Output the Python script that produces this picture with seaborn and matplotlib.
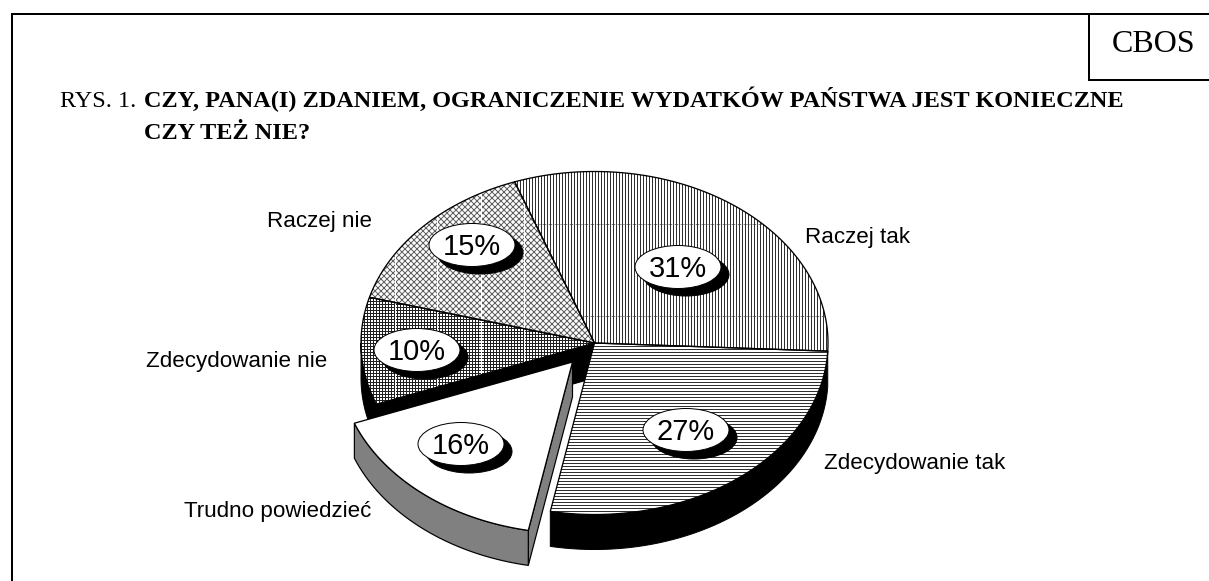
import numpy as np
import matplotlib
matplotlib.use("Agg")
import matplotlib.pyplot as plt
from matplotlib.patches import Polygon, Ellipse
import seaborn as sns

categories = ["Raczej tak", "Zdecydowanie tak", "Trudno powiedzieć", "Zdecydowanie nie", "Raczej nie"]
values = [31, 27, 16, 10, 15]
value_labels = ["31%", "27%", "16%", "10%", "15%"]
label_xy = [(805, 237), (824, 464), (184, 511), (146, 361), (267, 221)]
badge_xy = [(678, 267), (686, 430), (461, 444), (417, 350), (472, 245)]
hatches = ["||||", "----", None, "++++", "xxxx"]
hatch_inks = ["#303030", "#303030", "#000000", "#202020", "#606060"]
title_regular = "RYS. 1. "
title_bold_1 = "CZY, PANA(I) ZDANIEM, OGRANICZENIE WYDATKÓW PAŃSTWA JEST KONIECZNE"
title_bold_2 = "CZY TEŻ NIE?"
source = "CBOS"

sns.set_theme(style="white")
plt.rcParams["hatch.linewidth"] = 1.0
BLACK = "#000000"
GREY = "#808080"

W, H = 1209, 581
fig = plt.figure(figsize=(W / 72, H / 72), dpi=72, facecolor="white")
ax = fig.add_axes([0, 0, 1, 1])
ax.set_xlim(0, W)
ax.set_ylim(H, 0)
ax.axis("off")

CX, CY, RX, RY, DEPTH = 594.5, 343.0, 233.5, 171.5, 35.0
START = 110.0
EXPLODE = (-22.0, 19.0)


def arc(a0, a1, dx=0.0, dy=0.0, n=120):
    t = np.radians(np.linspace(a0, a1, n))
    return np.column_stack([CX + dx + RX * np.cos(t), CY + dy - RY * np.sin(t)])


def sector(a0, a1, dx=0.0, dy=0.0):
    return np.vstack([[CX + dx, CY + dy], arc(a0, a1, dx, dy)])


def wall(a0, a1, dx=0.0, dy=0.0):
    top = arc(a0, a1, dx, dy)
    bottom = top[::-1] + [0, DEPTH]
    return np.vstack([top, bottom])


spans = np.array(values) / sum(values) * 360.0
ends = START - np.cumsum(spans)
starts = ends + spans
a = dict(zip(categories, zip(starts, ends)))

# black side walls of the body (the slices that are not pulled out)
t_tak = a["Zdecydowanie tak"]
t_nie = a["Zdecydowanie nie"]
ax.add_patch(Polygon(wall(t_tak[0], t_tak[1]), fc=BLACK, ec=BLACK, lw=1, zorder=2))
ax.add_patch(Polygon(wall(t_nie[0], -180), fc=BLACK, ec=BLACK, lw=1, zorder=2))
p_edge = arc(t_nie[0], t_nie[0], n=1)[0]
ax.add_patch(Polygon([[CX, CY], p_edge, p_edge + [0, DEPTH], [CX, CY + DEPTH]], fc=BLACK, ec=BLACK, lw=1, zorder=2))

# top faces: hatch first, then streaks clipped to the face, then the outline
top_faces = {}
for name, hatch, ink in zip(categories, hatches, hatch_inks):
    if name == "Trudno powiedzieć":
        continue
    s, e = a[name]
    xy = sector(s, e)
    ax.add_patch(Polygon(xy, closed=True, fc="white", ec=ink, lw=0, hatch=hatch, zorder=3))
    top_faces[name] = Polygon(xy, closed=True, fc="none", ec=BLACK, lw=1.3, zorder=3.5)
    ax.add_patch(top_faces[name])

for name in ["Raczej nie", "Zdecydowanie nie"]:
    for xv in (395, 437, 481, 524):
        ln, = ax.plot([xv, xv], [150, 420], color="white", lw=1, zorder=3.2)
        ln.set_clip_path(top_faces[name])
for yv in (224, 316):
    ln, = ax.plot([500, 830], [yv, yv], color="#404040", lw=0.7, ls=(0, (2, 1)), zorder=3.2)
    ln.set_clip_path(top_faces["Raczej tak"])

# pulled-out slice
s, e = a["Trudno powiedzieć"]
dx, dy = EXPLODE
p_apex = np.array([CX + dx, CY + dy])
p_end = arc(s, s, dx, dy, n=1)[0]
ax.add_patch(Polygon([p_apex, p_end, p_end + [0, DEPTH], p_apex + [0, DEPTH]], fc=GREY, ec=BLACK, lw=1.2, zorder=4))
ax.add_patch(Polygon(wall(s, e, dx, dy), fc=GREY, ec=BLACK, lw=1.2, zorder=4))
ax.add_patch(Polygon(sector(s, e, dx, dy), fc="white", ec=BLACK, lw=1.3, zorder=5))

# percentage badges
for (bx, by), lab in zip(badge_xy, value_labels):
    ax.add_patch(Ellipse((bx + 8, by + 7.5), 86, 43, fc=BLACK, ec=BLACK, lw=1, zorder=6))
    ax.add_patch(Ellipse((bx, by), 86, 43, fc="white", ec=BLACK, lw=1, zorder=7))
    ax.text(bx, by + 2, lab, family="Liberation Sans", fontsize=29, color=BLACK, ha="center", va="center", zorder=8)

for (lx, ly), name in zip(label_xy, categories):
    ax.text(lx, ly, name, family="Liberation Sans", fontsize=22.4, color=BLACK, ha="left", va="center", zorder=8)

# frame and source box
ax.plot([11.5, 11.5, W + 5], [H + 5, 14, 14], color=BLACK, lw=2, solid_joinstyle="miter", clip_on=False, zorder=9)
ax.plot([1089, 1089, W + 5], [14, 80, 80], color=BLACK, lw=2, solid_joinstyle="miter", zorder=9)
ax.text(1154, 44, source, family="Liberation Serif", fontsize=32, color=BLACK, ha="center", va="center", zorder=9)

ax.text(60, 107, title_regular, family="Liberation Serif", fontsize=24.2, color=BLACK, ha="left", va="baseline", zorder=9)
ax.text(144, 107, title_bold_1, family="Liberation Serif", fontweight="bold", fontsize=24.2, color=BLACK, ha="left", va="baseline", zorder=9)
ax.text(144, 139, title_bold_2, family="Liberation Serif", fontweight="bold", fontsize=24.2, color=BLACK, ha="left", va="baseline", zorder=9)

fig.savefig("out.png", dpi=72, facecolor="white")
